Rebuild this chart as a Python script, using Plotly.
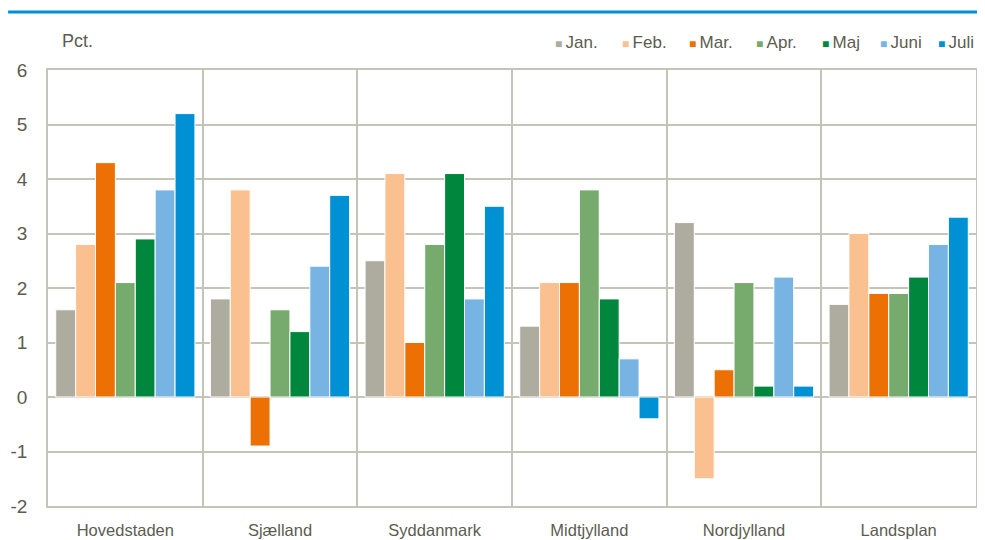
import plotly.graph_objects as go

regions = ["Hovedstaden", "Sjælland", "Syddanmark", "Midtjylland", "Nordjylland", "Landsplan"]
months = ["Jan.", "Feb.", "Mar.", "Apr.", "Maj", "Juni", "Juli"]
jan = [1.6, 1.8, 2.5, 1.3, 3.2, 1.7]
feb = [2.8, 3.8, 4.1, 2.1, -1.5, 3.0]
mar = [4.3, -0.9, 1.0, 2.1, 0.5, 1.9]
apr = [2.1, 1.6, 2.8, 3.8, 2.1, 1.9]
maj = [2.9, 1.2, 4.1, 1.8, 0.2, 2.2]
juni = [3.8, 2.4, 1.8, 0.7, 2.2, 2.8]
juli = [5.2, 3.7, 3.5, -0.4, 0.2, 3.3]
series = [jan, feb, mar, apr, maj, juni, juli]
colors = ["#ADAC9E", "#FAC08F", "#ED7004", "#77AB6E", "#00873E", "#78B4E3", "#0090D4"]
y_tickvals = [-2, -1, 0, 1, 2, 3, 4, 5, 6]
y_ticktext = ["-2", "-1", "0", "1", "2", "3", "4", "5", "6"]

# legend item left edges (paper coords), layout only
legend_x = [0.5442, 0.6164, 0.6886, 0.7608, 0.8319, 0.8944, 0.957]

font_family = "Liberation Sans, Arial, sans-serif"
text_color = "#5C5C50"
grid_color = "#C4C4B8"

fig = go.Figure()
for name, vals, col in zip(months, series, colors):
    fig.add_trace(go.Bar(
        x=regions, y=vals, name=name, showlegend=False,
        marker=dict(color=col, line=dict(color="white", width=1)),
    ))

fig.update_layout(
    width=977, height=532,
    barmode="group", bargap=0.1, bargroupgap=0,
    plot_bgcolor="white", paper_bgcolor="white",
    margin=dict(l=40, r=9, t=62, b=34, autoexpand=False),
    font=dict(family=font_family, color=text_color, size=16),
)

fig.update_xaxes(
    type="category", tickson="boundaries", showgrid=True, gridcolor=grid_color, gridwidth=1.5,
    showline=True, linecolor=grid_color, linewidth=1.5, mirror=True,
    ticks="", tickfont=dict(size=16.5, color=text_color), ticklabelstandoff=8,
)
fig.update_yaxes(
    range=[-2, 6], tickvals=y_tickvals, ticktext=y_ticktext,
    showgrid=True, gridcolor=grid_color, gridwidth=1.5,
    zeroline=True, zerolinecolor=grid_color, zerolinewidth=1.5,
    showline=True, linecolor=grid_color, linewidth=1.5, mirror=True,
    ticks="", tickfont=dict(size=19, color=text_color), ticklabelstandoff=15,
)

for name, col, lx in zip(months, colors, legend_x):
    fig.add_annotation(
        text=f"<span style='color:{col};font-size:12px'>■ </span>{name}",
        xref="paper", yref="paper", x=lx, y=1.064,
        xanchor="left", yanchor="middle", showarrow=False,
        font=dict(size=17, color=text_color),
    )

fig.add_annotation(
    text="Pct.", xref="paper", yref="paper", x=0.013, y=1.066,
    xanchor="left", yanchor="middle", showarrow=False,
    font=dict(size=18, color=text_color),
)
fig.add_shape(
    type="line", xref="paper", yref="paper",
    x0=-0.043, x1=1.01, y0=1.133, y1=1.133,
    line=dict(color="#0090D4", width=3),
)

fig.write_html("out.html")
